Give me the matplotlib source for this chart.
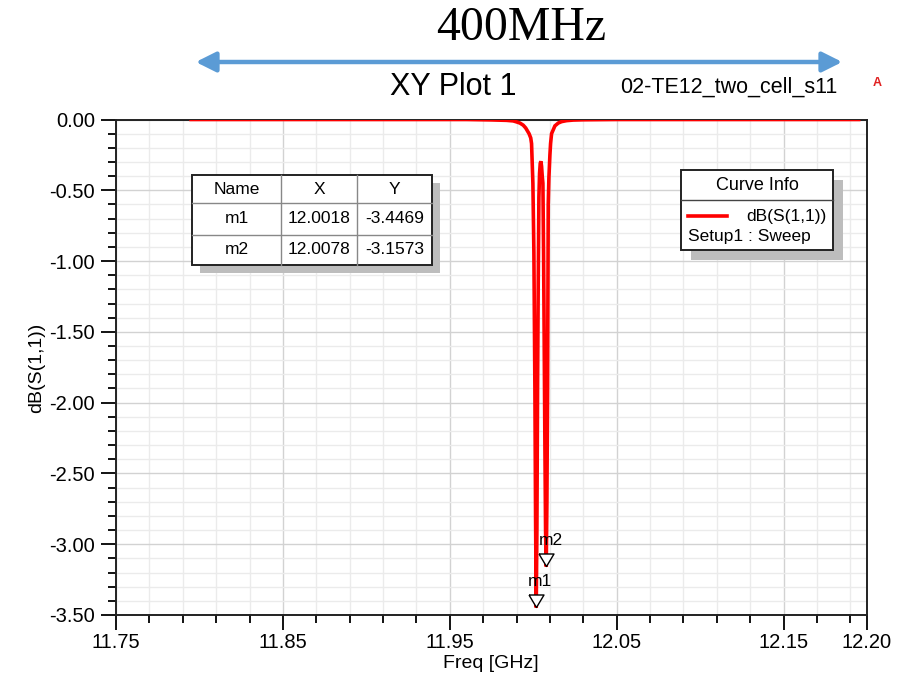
import numpy as np
import matplotlib
matplotlib.use("Agg")
import matplotlib.pyplot as plt
from matplotlib.patches import Rectangle
from matplotlib.lines import Line2D
from matplotlib.path import Path
from matplotlib.markers import MarkerStyle

plt.rcParams['font.family'] = ['Liberation Sans', 'DejaVu Sans']

# S11 sweep (GHz, dB)
freq = [11.795, 11.900, 11.960, 11.975, 11.984, 11.988, 11.990, 11.992, 11.994,
        11.9955, 11.9965, 11.9975, 11.9985, 11.9990, 11.9998, 12.0004, 12.0010,
        12.0014, 12.0018, 12.0022, 12.0026, 12.0030, 12.0034, 12.0038, 12.0042,
        12.0046, 12.0050, 12.0054, 12.0058, 12.0062, 12.0066, 12.0070, 12.0074,
        12.0078, 12.0082, 12.0086, 12.0090, 12.0094, 12.0100, 12.0104, 12.0110,
        12.0130, 12.0150, 12.0170, 12.0200, 12.0240, 12.0300, 12.0500, 12.1950]
s11_db = [0.0, 0.0, 0.0, -0.003, -0.006, -0.010, -0.017, -0.025, -0.040,
          -0.060, -0.080, -0.100, -0.130, -0.170, -0.450, -0.940, -1.900,
          -2.800, -3.4469, -2.900, -1.900, -1.150, -0.550, -0.380, -0.310,
          -0.295, -0.330, -0.400, -0.450, -0.940, -1.600, -2.300, -2.900,
          -3.1573, -2.700, -1.900, -0.600, -0.410, -0.250, -0.170, -0.100,
          -0.045, -0.025, -0.015, -0.008, -0.004, -0.002, 0.0, 0.0]

# markers
marker_names = ['m1', 'm2']
marker_x = [12.0018, 12.0078]
marker_y = [-3.4469, -3.1573]

x_major = [11.75, 11.85, 11.95, 12.05, 12.15, 12.20]
x_labels = ['11.75', '11.85', '11.95', '12.05', '12.15', '12.20']
y_major = [0.0, -0.5, -1.0, -1.5, -2.0, -2.5, -3.0, -3.5]
y_labels = ['0.00', '-0.50', '-1.00', '-1.50', '-2.00', '-2.50', '-3.00', '-3.50']

W, H = 903, 678


def fx(x):
    return x / W


def fy(y):
    return 1 - y / H


fig = plt.figure(figsize=(W / 100, H / 100), dpi=100)
ax = fig.add_axes([fx(116), fy(615), (867 - 116) / W, (615 - 119.5) / H])

ax.set_xlim(11.75, 12.20)
ax.set_ylim(-3.5, 0.0)
ax.set_xticks(x_major)
ax.set_xticklabels(x_labels)
ax.set_xticks([v for v in np.arange(11.77, 12.20, 0.02) if min(abs(v - m) for m in x_major) > 1e-6],
              minor=True)
ax.set_yticks(y_major)
ax.set_yticklabels(y_labels)
ax.set_yticks([v for v in np.arange(-3.4, 0.0, 0.1) if min(abs(v - m) for m in y_major) > 1e-6],
              minor=True)
ax.tick_params(which='major', direction='out', length=11, width=1.3, labelsize=14.5, pad=2)
ax.tick_params(which='minor', direction='out', length=6, width=1.3)
ax.tick_params(axis='y', which='major', pad=4)
for s in ax.spines.values():
    s.set_linewidth(1.4)
    s.set_color('#222222')

ax.grid(which='major', color='#d2d2d2', lw=1.0)
ax.grid(which='minor', color='#ebebeb', lw=1.0)
ax.set_axisbelow(True)

ax.plot(freq, s11_db, color='#ff0000', lw=2.6, zorder=3, solid_joinstyle='miter')

tri = MarkerStyle(Path([(-0.6, 1.0), (0.6, 1.0), (0.0, 0.0), (-0.6, 1.0)]))
ax.plot(marker_x, marker_y, ls='none', marker=tri, ms=18, mfc='white', mec='black',
        mew=1.0, zorder=4, clip_on=False)
for n, mx, my in zip(marker_names, marker_x, marker_y):
    ax.annotate(n, (mx, my), xytext=(3, 19), textcoords='offset points',
                ha='center', va='center', fontsize=12.5, zorder=5)

# titles and labels
fig.text(fx(453), fy(87), 'XY Plot 1', ha='center', va='center', fontsize=22)
fig.text(fx(729), fy(87), '02-TE12_two_cell_s11', ha='center', va='center', fontsize=15.5)
fig.text(fx(877), fy(83), 'A', ha='center', va='center', fontsize=9, color='#e02020',
         fontweight='bold')
fig.text(fx(491), fy(663), 'Freq [GHz]', ha='center', va='center', fontsize=14)
fig.text(fx(37), fy(368), 'dB(S(1,1))', ha='center', va='center', fontsize=14, rotation=90)

fig.text(fx(521), fy(28), '400MHz', ha='center', va='center', fontsize=34.5,
         family='Liberation Serif')
fig.add_artist(matplotlib.patches.FancyArrowPatch(
    (fx(193), fy(62)), (fx(845), fy(62)), transform=fig.transFigure,
    arrowstyle='<|-|>', mutation_scale=30, lw=3.2, color='#5b9bd5'))

# marker table
cols = [192, 281, 357, 432]
rows = [175, 203, 235, 265]
sh = 8
fig.add_artist(Rectangle((fx(cols[0] + sh), fy(rows[-1] + sh)), (cols[-1] - cols[0]) / W,
                         (rows[-1] - rows[0]) / H, transform=fig.transFigure,
                         color='#bdbdbd', lw=0, zorder=2))
fig.add_artist(Rectangle((fx(cols[0]), fy(rows[-1])), (cols[-1] - cols[0]) / W,
                         (rows[-1] - rows[0]) / H, transform=fig.transFigure,
                         facecolor='white', edgecolor='#222222', lw=1.4, zorder=2.1))
for c in cols[1:-1]:
    fig.add_artist(Line2D([fx(c), fx(c)], [fy(rows[0]), fy(rows[-1])], transform=fig.transFigure,
                          color='#888888', lw=1.0, zorder=2.2))
for r in rows[1:-1]:
    fig.add_artist(Line2D([fx(cols[0]), fx(cols[-1])], [fy(r), fy(r)], transform=fig.transFigure,
                          color='#888888', lw=1.0, zorder=2.2))
cells = [['Name', 'X', 'Y']] + [[n, f'{x:.4f}', f'{y:.4f}']
                                 for n, x, y in zip(marker_names, marker_x, marker_y)]
for i, row in enumerate(cells):
    yc = (rows[i] + rows[i + 1]) / 2
    for j, txt in enumerate(row):
        xc = (cols[j] + cols[j + 1]) / 2
        fig.text(fx(xc), fy(yc), txt, ha='center', va='center', fontsize=12.5, zorder=3)

# curve info legend
lx0, lx1, ly0, ly1 = 681, 833, 170, 250
fig.add_artist(Rectangle((fx(lx0 + 10), fy(ly1 + 10)), (lx1 - lx0) / W, (ly1 - ly0) / H,
                         transform=fig.transFigure, color='#bdbdbd', lw=0, zorder=2))
fig.add_artist(Rectangle((fx(lx0), fy(ly1)), (lx1 - lx0) / W, (ly1 - ly0) / H,
                         transform=fig.transFigure, facecolor='white', edgecolor='#222222',
                         lw=1.4, zorder=2.1))
fig.add_artist(Line2D([fx(lx0), fx(lx1)], [fy(200), fy(200)], transform=fig.transFigure,
                      color='#444444', lw=1.0, zorder=2.2))
fig.text(fx(757), fy(186), 'Curve Info', ha='center', va='center', fontsize=13, zorder=3)
fig.add_artist(Line2D([fx(688), fx(727)], [fy(216), fy(216)], transform=fig.transFigure,
                      color='#ff0000', lw=2.6, zorder=2.3))
fig.text(fx(827), fy(216), 'dB(S(1,1))', ha='right', va='center', fontsize=12.5, zorder=3)
fig.text(fx(688), fy(237), 'Setup1 : Sweep', ha='left', va='center', fontsize=12.5, zorder=3)

fig.savefig('out.png', dpi=100)
